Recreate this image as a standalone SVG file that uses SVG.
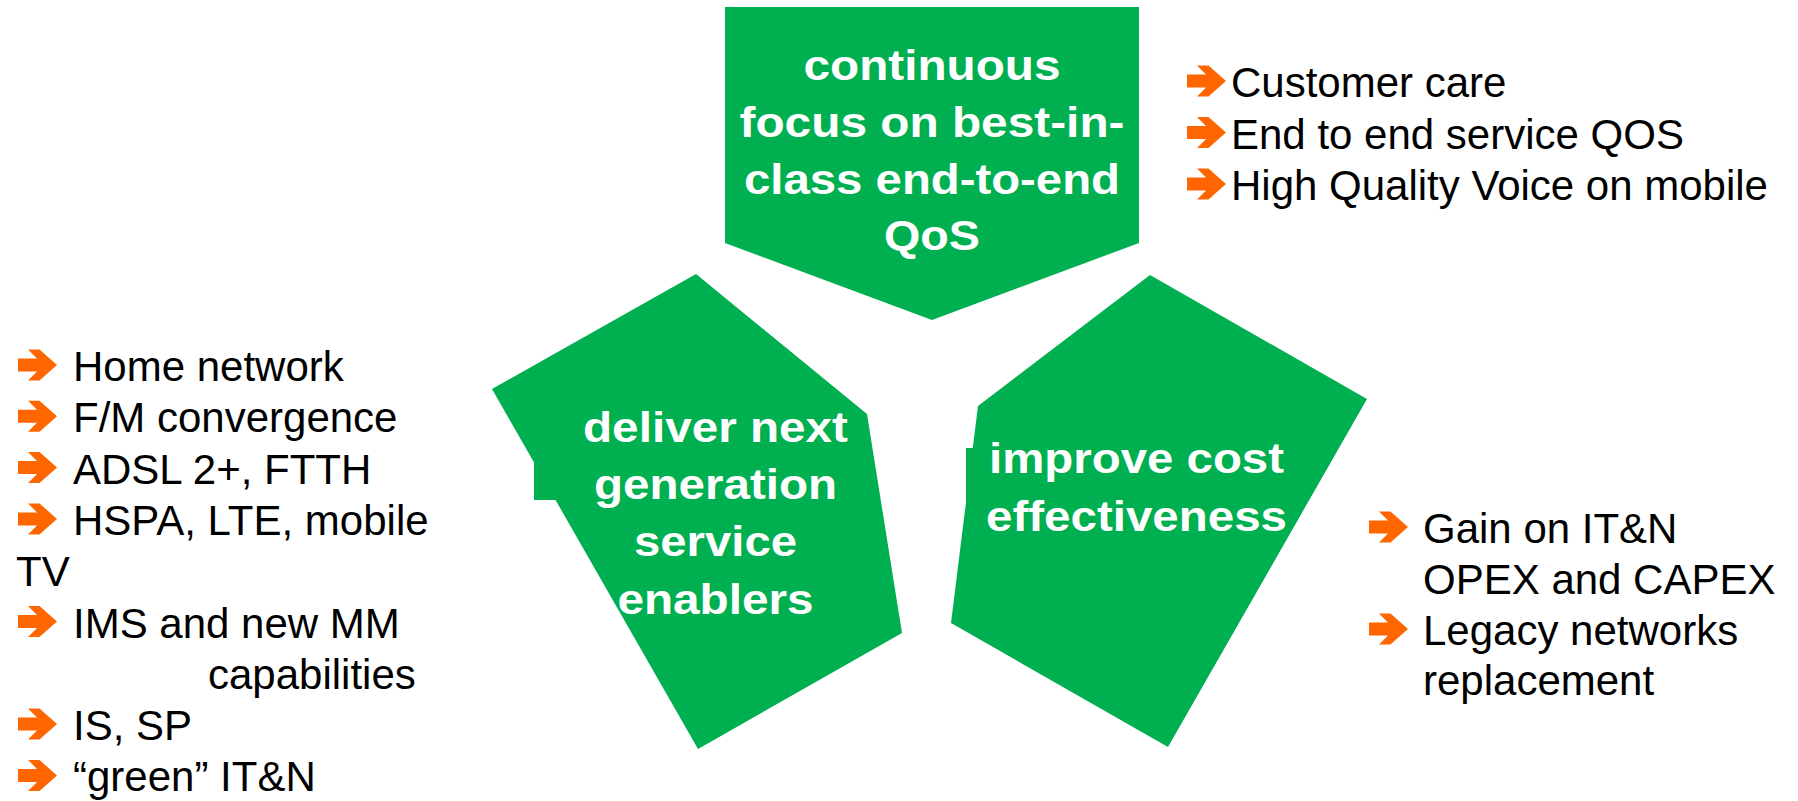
<svg xmlns="http://www.w3.org/2000/svg" xmlns:xlink="http://www.w3.org/1999/xlink" width="1798" height="801" viewBox="0 0 1798 801">
<style>
.shape{fill:#00AF50;stroke:none}
.title{font-family:"Liberation Sans",Arial,sans-serif;font-weight:bold;font-size:43px;fill:#FFFFFF;text-anchor:middle}
.item{font-family:"Liberation Sans",Arial,sans-serif;font-size:42px;fill:#000000}
</style>
<defs>
<path id="arr" d="M0,-6.5 H19 L10,-15.5 H21.5 L39,0 L21.5,15.5 H10 L19,6.5 H0 Z" fill="#FF6600"/>
</defs>
<rect width="1798" height="801" fill="#FFFFFF"/>

<g id="node-qos">
<polygon class="shape" points="725,7 1139,7 1139,243 932,320 725,243"/>
<text class="title" x="932" y="80" textLength="257" lengthAdjust="spacingAndGlyphs">continuous</text>
<text class="title" x="932" y="137" textLength="385" lengthAdjust="spacingAndGlyphs">focus on best-in-</text>
<text class="title" x="932" y="194" textLength="376" lengthAdjust="spacingAndGlyphs">class end-to-end</text>
<text class="title" x="932" y="250" textLength="96" lengthAdjust="spacingAndGlyphs">QoS</text>
</g>

<g id="node-enablers">
<polygon class="shape" points="696,274 867,414 902,633 698,749 492,389"/>
<rect class="shape" x="534" y="462" width="70" height="38"/>
<text class="title" x="715.5" y="442" textLength="265" lengthAdjust="spacingAndGlyphs">deliver next</text>
<text class="title" x="715.5" y="499" textLength="243" lengthAdjust="spacingAndGlyphs">generation</text>
<text class="title" x="715.5" y="556" textLength="163" lengthAdjust="spacingAndGlyphs">service</text>
<text class="title" x="715.5" y="614" textLength="196" lengthAdjust="spacingAndGlyphs">enablers</text>
</g>

<g id="node-cost">
<polygon class="shape" points="1150,275 1367,399 1168,747 951,623 978,406"/>
<rect class="shape" x="966" y="448" width="20" height="54"/>
<text class="title" x="1136.5" y="473" textLength="295" lengthAdjust="spacingAndGlyphs">improve cost</text>
<text class="title" x="1136.5" y="531" textLength="301" lengthAdjust="spacingAndGlyphs">effectiveness</text>
</g>

<g id="list-qos">
<use xlink:href="#arr" href="#arr" x="1187" y="81"/>
<text class="item" x="1231" y="97">Customer care</text>
<use xlink:href="#arr" href="#arr" x="1187" y="132.5"/>
<text class="item" x="1231" y="148.5">End to end service QOS</text>
<use xlink:href="#arr" href="#arr" x="1187" y="184"/>
<text class="item" x="1231" y="200">High Quality Voice on mobile</text>
</g>

<g id="list-enablers">
<use xlink:href="#arr" href="#arr" x="18" y="365"/>
<text class="item" x="73" y="381">Home network</text>
<use xlink:href="#arr" href="#arr" x="18" y="416.3"/>
<text class="item" x="73" y="432.3">F/M convergence</text>
<use xlink:href="#arr" href="#arr" x="18" y="467.6"/>
<text class="item" x="73" y="483.6">ADSL 2+, FTTH</text>
<use xlink:href="#arr" href="#arr" x="18" y="518.9"/>
<text class="item" x="73" y="534.9">HSPA, LTE, mobile</text>
<text class="item" x="16" y="586.2">TV</text>
<use xlink:href="#arr" href="#arr" x="18" y="621.5"/>
<text class="item" x="73" y="637.5">IMS and new MM</text>
<text class="item" x="208" y="688.8">capabilities</text>
<use xlink:href="#arr" href="#arr" x="18" y="724.1"/>
<text class="item" x="73" y="740.1">IS, SP</text>
<use xlink:href="#arr" href="#arr" x="18" y="775.4"/>
<text class="item" x="73" y="791.4">“green” IT&amp;N</text>
</g>

<g id="list-cost">
<use xlink:href="#arr" href="#arr" x="1369" y="527"/>
<text class="item" x="1423" y="543">Gain on IT&amp;N</text>
<text class="item" x="1423" y="594">OPEX and CAPEX</text>
<use xlink:href="#arr" href="#arr" x="1369" y="629"/>
<text class="item" x="1423" y="645">Legacy networks</text>
<text class="item" x="1423" y="695">replacement</text>
</g>

<g id="connectors"></g>
</svg>
